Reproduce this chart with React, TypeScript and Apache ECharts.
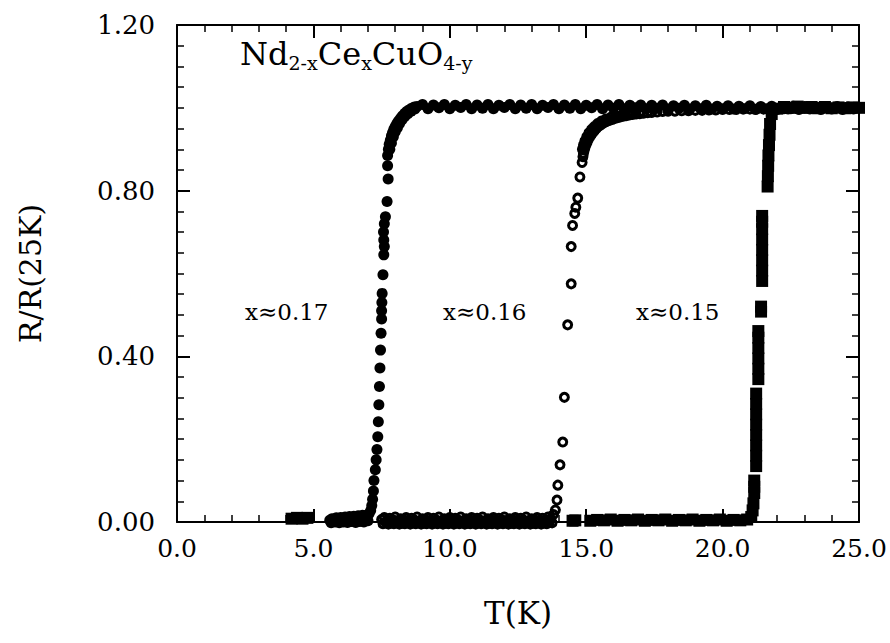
import React, { useEffect, useRef } from "react";
import * as echarts from "echarts";

// x ≈ 0.17 (filled circles): [T (K), R/R(25K)]
const x017: number[][] = [
  [5.6, 0.004], [5.68, 0.008], [5.76, 0.006], [5.84, 0.01], [5.92, 0.007], [6.0, 0.011],
  [6.08, 0.008], [6.16, 0.012], [6.24, 0.009], [6.32, 0.013], [6.4, 0.01], [6.48, 0.014],
  [6.56, 0.011], [6.64, 0.015], [6.72, 0.012], [6.8, 0.016], [6.88, 0.013], [6.96, 0.017],
  [7.04, 0.02], [7.1, 0.028], [7.14, 0.04], [7.17, 0.055],
  [5.65, -0.002], [5.8, 0.0], [5.95, -0.002], [6.1, 0.0], [6.25, -0.001], [6.4, 0.001],
  [6.55, -0.001], [6.7, 0.001], [6.85, 0.0], [7.0, 0.003],
  [7.2, 0.075], [7.22, 0.1], [7.27, 0.126], [7.3, 0.15], [7.33, 0.175], [7.36, 0.206],
  [7.38, 0.242], [7.4, 0.283], [7.42, 0.327], [7.44, 0.372], [7.46, 0.415], [7.48, 0.456],
  [7.5, 0.49], [7.5, 0.51], [7.51, 0.53], [7.52, 0.552], [7.55, 0.597], [7.58, 0.645],
  [7.6, 0.665], [7.58, 0.681], [7.57, 0.7], [7.6, 0.72], [7.64, 0.737], [7.7, 0.774],
  [7.74, 0.828], [7.72, 0.86],
  [7.72, 0.885], [7.75, 0.9], [7.78, 0.912], [7.82, 0.922], [7.86, 0.932], [7.9, 0.94],
  [7.95, 0.948], [8.0, 0.955], [8.06, 0.962], [8.12, 0.968], [8.19, 0.974], [8.26, 0.98],
  [8.34, 0.986], [8.42, 0.991], [8.5, 0.995], [8.6, 0.999], [8.7, 1.002],
  [7.8, 0.9], [7.86, 0.915], [7.93, 0.93], [8.0, 0.942], [8.08, 0.952], [8.16, 0.962],
  [8.25, 0.971], [8.35, 0.979], [8.46, 0.986], [8.58, 0.992], [8.72, 0.997],
  [8.8, 1.003], [9.0, 1.008], [9.2, 0.998], [9.4, 1.007], [9.6, 1.0], [9.8, 1.008],
  [10.0, 0.998], [10.2, 1.006], [10.4, 1.001], [10.6, 1.008], [10.8, 0.998], [11.0, 1.007],
  [11.2, 0.999], [11.4, 1.008], [11.6, 0.998], [11.8, 1.006], [12.0, 1.001], [12.2, 1.008],
  [12.4, 0.998], [12.6, 1.007], [12.8, 0.999], [13.0, 1.008], [13.2, 0.998], [13.4, 1.006],
  [13.6, 1.001], [13.8, 1.008], [14.0, 0.998], [14.2, 1.007], [14.4, 0.999], [14.6, 1.008],
  [14.8, 0.998], [15.0, 1.006], [15.2, 1.0], [15.4, 1.008], [15.6, 0.998], [15.8, 1.007],
  [16.0, 0.999], [16.2, 1.008], [16.4, 0.998], [16.6, 1.006], [16.8, 1.0], [17.0, 1.007],
  [17.2, 0.998], [17.4, 1.006], [17.6, 0.999], [17.8, 1.007], [18.0, 0.997], [18.2, 1.005],
  [18.4, 0.999], [18.6, 1.006], [18.8, 0.997], [19.0, 1.005], [19.2, 0.998], [19.4, 1.006],
  [19.6, 0.997], [19.8, 1.004], [20.0, 0.998], [20.2, 1.005], [20.4, 0.997], [20.6, 1.004],
  [20.8, 0.998], [21.0, 1.005], [21.2, 0.996], [21.4, 1.003], [21.6, 0.998], [21.8, 1.004],
  [22.0, 0.996], [22.2, 1.003], [22.4, 0.997], [22.6, 1.004], [22.8, 0.996], [23.0, 1.003],
  [23.2, 0.997], [23.4, 1.003], [23.6, 0.996], [23.8, 1.002], [24.0, 0.997], [24.2, 1.003],
  [24.4, 0.996], [24.6, 1.002], [24.8, 0.997], [25.0, 1.0],
];

// x ≈ 0.16 (open circles)
const x016: number[][] = [
  [7.5, 0.006], [7.6, 0.011], [7.7, 0.004], [7.8, 0.009], [7.9, 0.005], [8.0, 0.012],
  [8.1, 0.003], [8.2, 0.008], [8.3, 0.006], [8.4, 0.011], [8.5, 0.004], [8.6, 0.009],
  [8.7, 0.005], [8.8, 0.012], [8.9, 0.003], [9.0, 0.008], [9.1, 0.006], [9.2, 0.011],
  [9.3, 0.004], [9.4, 0.009], [9.5, 0.005], [9.6, 0.012], [9.7, 0.003], [9.8, 0.008],
  [9.9, 0.006], [10.0, 0.011], [10.1, 0.004], [10.2, 0.009], [10.3, 0.005], [10.4, 0.012],
  [10.5, 0.003], [10.6, 0.008], [10.7, 0.006], [10.8, 0.011], [10.9, 0.004], [11.0, 0.009],
  [11.1, 0.005], [11.2, 0.012], [11.3, 0.003], [11.4, 0.008], [11.5, 0.006], [11.6, 0.011],
  [11.7, 0.004], [11.8, 0.009], [11.9, 0.005], [12.0, 0.012], [12.1, 0.003], [12.2, 0.008],
  [12.3, 0.006], [12.4, 0.011], [12.5, 0.004], [12.6, 0.009], [12.7, 0.005], [12.8, 0.012],
  [12.9, 0.003], [13.0, 0.008], [13.1, 0.006], [13.2, 0.011], [13.3, 0.004], [13.4, 0.009],
  [13.5, 0.005], [13.6, 0.012], [13.7, 0.008], [13.8, 0.018],
  [7.55, -0.004], [7.65, -0.001], [7.75, -0.005], [7.85, -0.002], [7.95, -0.004], [8.05, 0.0],
  [8.15, -0.005], [8.25, -0.003], [8.35, -0.004], [8.45, -0.001], [8.55, -0.005], [8.65, -0.002],
  [8.75, -0.004], [8.85, 0.0], [8.95, -0.005], [9.05, -0.003], [9.15, -0.004], [9.25, -0.001],
  [9.35, -0.005], [9.45, -0.002], [9.55, -0.004], [9.65, 0.0], [9.75, -0.005], [9.85, -0.003],
  [9.95, -0.004], [10.05, -0.001], [10.15, -0.005], [10.25, -0.002], [10.35, -0.004], [10.45, 0.0],
  [10.55, -0.005], [10.65, -0.003], [10.75, -0.004], [10.85, -0.001], [10.95, -0.005], [11.05, -0.002],
  [11.15, -0.004], [11.25, 0.0], [11.35, -0.005], [11.45, -0.003], [11.55, -0.004], [11.65, -0.001],
  [11.75, -0.005], [11.85, -0.002], [11.95, -0.004], [12.05, 0.0], [12.15, -0.005], [12.25, -0.003],
  [12.35, -0.004], [12.45, -0.001], [12.55, -0.005], [12.65, -0.002], [12.75, -0.004], [12.85, 0.0],
  [12.95, -0.005], [13.05, -0.003], [13.15, -0.004], [13.25, -0.001], [13.35, -0.005], [13.45, -0.002],
  [13.55, -0.004], [13.65, 0.0], [13.75, -0.002],
  [13.87, 0.029], [13.93, 0.053], [13.96, 0.089], [14.04, 0.138], [14.14, 0.193], [14.2, 0.301],
  [14.32, 0.476], [14.45, 0.575], [14.45, 0.665], [14.5, 0.716], [14.58, 0.745], [14.62, 0.76],
  [14.69, 0.782], [14.77, 0.833], [14.85, 0.868], [14.88, 0.882],
  [14.9, 0.89], [14.93, 0.898], [14.96, 0.905], [15.0, 0.912], [15.04, 0.918], [15.08, 0.924],
  [15.13, 0.93], [15.18, 0.935], [15.23, 0.94], [15.29, 0.944], [15.35, 0.949], [15.41, 0.953],
  [15.48, 0.957], [15.55, 0.96], [15.62, 0.963], [15.7, 0.966], [15.78, 0.968], [15.86, 0.97],
  [15.95, 0.972], [16.04, 0.974], [16.14, 0.976], [16.24, 0.978], [16.35, 0.98], [16.46, 0.981],
  [16.58, 0.983], [16.7, 0.984], [16.83, 0.985], [16.96, 0.986], [17.1, 0.987], [17.25, 0.988],
  [17.4, 0.989], [17.6, 0.99], [17.8, 0.991], [18.0, 0.992], [18.25, 0.992], [18.5, 0.993],
  [18.75, 0.993], [19.0, 0.994], [19.25, 0.994], [19.5, 0.995], [19.75, 0.995], [20.0, 0.996],
  [20.25, 0.996], [20.5, 0.996], [20.75, 0.997], [21.0, 0.997], [21.25, 0.997], [21.5, 0.997],
  [21.75, 0.998], [22.0, 0.998], [22.25, 0.998], [22.5, 0.998], [22.75, 0.998], [23.0, 0.999],
  [23.25, 0.999], [23.5, 0.999], [23.75, 0.999], [24.0, 0.999], [24.25, 1.0], [24.5, 1.0],
  [24.75, 1.0], [25.0, 1.0],
  [14.86, 0.9], [14.9, 0.91], [14.95, 0.92], [15.02, 0.93], [15.1, 0.94], [15.2, 0.948],
  [15.3, 0.955], [15.42, 0.962], [15.56, 0.968], [15.72, 0.973], [15.9, 0.977], [16.1, 0.981],
  [16.35, 0.985], [16.65, 0.988], [17.0, 0.991],
];

// x ≈ 0.15 (filled squares)
const x015: number[][] = [
  [4.2, 0.008], [4.4, 0.01], [4.6, 0.008], [4.78, 0.01],
  [14.5, 0.003], [14.6, 0.004],
  [15.15, 0.003], [15.4, 0.005], [15.65, 0.004], [15.9, 0.006], [16.15, 0.003], [16.4, 0.005],
  [16.65, 0.004], [16.9, 0.006], [17.15, 0.003], [17.4, 0.005], [17.65, 0.004], [17.9, 0.006],
  [18.15, 0.003], [18.4, 0.005], [18.65, 0.004], [18.9, 0.006], [19.15, 0.003], [19.4, 0.005],
  [19.65, 0.004], [19.9, 0.006], [20.15, 0.003], [20.4, 0.005], [20.65, 0.004], [20.9, 0.006],
  [21.05, 0.012], [21.1, 0.028], [21.13, 0.045],
  [21.16, 0.07], [21.16, 0.085], [21.16, 0.1],
  [21.23, 0.135], [21.23, 0.16], [21.23, 0.185], [21.23, 0.21], [21.23, 0.235], [21.23, 0.26],
  [21.23, 0.285], [21.23, 0.31],
  [21.31, 0.345], [21.31, 0.37], [21.31, 0.395], [21.31, 0.42], [21.31, 0.445], [21.31, 0.461],
  [21.41, 0.508], [21.41, 0.52],
  [21.45, 0.582], [21.45, 0.607], [21.45, 0.632], [21.45, 0.657], [21.45, 0.682], [21.45, 0.707],
  [21.45, 0.725], [21.45, 0.739],
  [21.65, 0.81], [21.66, 0.835], [21.67, 0.86], [21.68, 0.885], [21.7, 0.91], [21.72, 0.935],
  [21.74, 0.961],
  [21.8, 0.985], [22.0, 0.998], [22.25, 1.002], [22.5, 1.0], [22.75, 1.003], [23.0, 1.0],
  [23.25, 1.002], [23.5, 0.999], [23.75, 1.002], [24.0, 0.999], [24.25, 1.001], [24.5, 0.999],
  [24.75, 1.001], [25.0, 1.0],
];

const seriesLabels = ["x≈0.17", "x≈0.16", "x≈0.15"];
const xTitle = "T(K)";
const yTitle = "R/R(25K)";

const FONT = "DejaVu Serif";

export default function App() {
  const ref = useRef<HTMLDivElement>(null);
  useEffect(() => {
    if (!ref.current) return;
    const chart = echarts.init(ref.current, undefined, { renderer: "svg" });
    const axisCommon = {
      type: "value" as const,
      axisLine: { show: true, onZero: false, lineStyle: { color: "#000", width: 2 } },
      axisTick: { show: true, inside: true, length: 13, lineStyle: { color: "#000", width: 2 } },
      minorTick: { show: true, length: 7, lineStyle: { color: "#000", width: 1.5 } },
      splitLine: { show: false },
      minorSplitLine: { show: false },
    };
    const xCommon = { ...axisCommon, min: 0, max: 25, interval: 5, minorTick: { ...axisCommon.minorTick, splitNumber: 5 } };
    const yCommon = { ...axisCommon, min: 0, max: 1.2, interval: 0.4, minorTick: { ...axisCommon.minorTick, splitNumber: 8 } };
    chart.setOption({
      animation: false,
      backgroundColor: "#fff",
      grid: { left: 177, right: 31, top: 25, bottom: 121, containLabel: false },
      xAxis: [
        {
          ...xCommon,
          position: "bottom",
          axisLabel: { fontFamily: FONT, fontSize: 25, color: "#000", margin: 14, formatter: (v: number) => v.toFixed(1) },
          name: xTitle,
          nameLocation: "middle",
          nameGap: 75,
          nameTextStyle: { fontFamily: FONT, fontSize: 31, color: "#000" },
        },
        { ...xCommon, position: "top", axisLabel: { show: false } },
      ],
      yAxis: [
        {
          ...yCommon,
          position: "left",
          axisLabel: { fontFamily: FONT, fontSize: 26, color: "#000", margin: 22, formatter: (v: number) => v.toFixed(2) },
          name: yTitle,
          nameLocation: "middle",
          nameRotate: 90,
          nameGap: 132,
          nameTextStyle: { fontFamily: FONT, fontSize: 30, color: "#000" },
        },
        { ...yCommon, position: "right", axisLabel: { show: false } },
      ],
      series: [
        {
          type: "scatter",
          name: seriesLabels[1],
          data: x016,
          symbol: "circle",
          symbolSize: 8,
          clip: false,
          itemStyle: { color: "rgba(255,255,255,0)", borderColor: "#000", borderWidth: 3, opacity: 1 },
        },
        {
          type: "scatter",
          name: seriesLabels[0],
          data: x017,
          symbol: "circle",
          symbolSize: 11,
          clip: false,
          itemStyle: { color: "#000", opacity: 1 },
        },
        {
          type: "scatter",
          name: seriesLabels[2],
          data: x015,
          symbol: "rect",
          symbolSize: 12,
          clip: false,
          itemStyle: { color: "#000", opacity: 1 },
        },
      ],
      graphic: [
        {
          type: "text",
          left: 240,
          top: 38,
          style: {
            text: "{m|Nd}{s|2-x}{m|Ce}{s|x}{m|CuO}{s|4-y}",
            fill: "#000",
            rich: {
              m: { fontFamily: FONT, fontSize: 32, lineHeight: 36, fill: "#000" },
              s: { fontFamily: FONT, fontSize: 19, lineHeight: 14, verticalAlign: "bottom", fill: "#000" },
            },
          },
        },
        {
          type: "text",
          x: 245,
          y: 312,
          style: { text: seriesLabels[0], fontFamily: FONT, fontSize: 23, fill: "#000", align: "left", verticalAlign: "middle" },
        },
        {
          type: "text",
          x: 443,
          y: 312,
          style: { text: seriesLabels[1], fontFamily: FONT, fontSize: 23, fill: "#000", align: "left", verticalAlign: "middle" },
        },
        {
          type: "text",
          x: 636,
          y: 312,
          style: { text: seriesLabels[2], fontFamily: FONT, fontSize: 23, fill: "#000", align: "left", verticalAlign: "middle" },
        },
      ],
    });
    return () => chart.dispose();
  }, []);
  return (
    <div
      ref={ref}
      style={{ position: "absolute", left: 0, top: 0, width: 890, height: 643, background: "#fff" }}
    />
  );
}
